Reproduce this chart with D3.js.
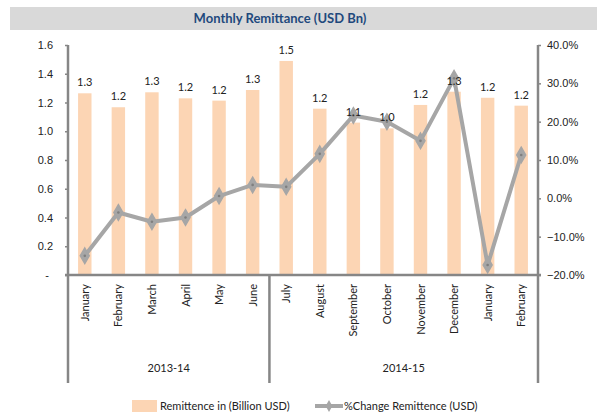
<!doctype html>
<html>
<head>
  <meta charset="utf-8">
  <script src="https://cdnjs.cloudflare.com/ajax/libs/d3/7.8.5/d3.min.js"></script>
  <style>
    body { margin: 0; background: #fff; }
    svg { font-family: Lato, "Open Sans", sans-serif; }
  </style>
</head>
<body>
  <svg id="chart" width="597" height="412"></svg>
  <script>
    // data
    var months = ["January", "February", "March", "April", "May", "June",
      "July", "August", "September", "October", "November", "December", "January", "February"];
    var years = ["2013-14", "2014-15"];
    var yearSpan = [6, 8]; // how many months sit under each year label
    var remittance = [1.264, 1.167, 1.271, 1.229, 1.213, 1.287, 1.489, 1.157, 1.06, 1.02, 1.183, 1.275, 1.233, 1.178];
    var pctChange = [-15.0, -3.7, -6.1, -5.0, 0.6, 3.5, 3.0, 11.6, 21.6, 20.0, 15.0, 31.3, -17.4, 11.3];
    var leftTicks = [0, 0.2, 0.4, 0.6, 0.8, 1.0, 1.2, 1.4, 1.6];
    var rightTicks = [-20, -10, 0, 10, 20, 30, 40];

    var svg = d3.select("#chart");
    var plotL = 68, plotR = 538, plotT = 45, plotB = 275;
    var axisGray = "#868686";

    // title band
    svg.append("rect").attr("x", 10).attr("y", 7).attr("width", 587).attr("height", 23).attr("fill", "#d9d9d9");
    svg.append("text").attr("x", 280).attr("y", 23).attr("text-anchor", "middle")
      .style("font-weight", "bold").style("font-size", "13px").attr("fill", "#1f497d")
      .text("Monthly Remittance (USD Bn)");

    var x = d3.scaleBand().domain(d3.range(months.length)).range([plotL, plotR]).paddingInner(0.6).paddingOuter(0.3);
    var xc = i => x(i) + x.bandwidth() / 2;
    var step = (plotR - plotL) / months.length;
    var yL = d3.scaleLinear().domain([0, 1.6]).range([plotB, plotT]);
    var yR = d3.scaleLinear().domain([-20, 40]).range([plotB, plotT]);

    // bars
    svg.append("g").selectAll("rect").data(remittance).enter().append("rect")
      .attr("x", (d, i) => x(i)).attr("width", x.bandwidth())
      .attr("y", d => yL(d)).attr("height", d => plotB - yL(d))
      .attr("fill", "#fcd5b4");

    // left axis
    var gL = svg.append("g").attr("transform", `translate(${plotL},0)`)
      .call(d3.axisLeft(yL).tickValues(leftTicks).tickSize(3).tickPadding(12)
        .tickFormat(d => d === 0 ? "-" : d3.format(".1f")(d)));
    // right axis
    var gR = svg.append("g").attr("transform", `translate(${plotR},0)`)
      .call(d3.axisRight(yR).tickValues(rightTicks).tickSize(3).tickPadding(6)
        .tickFormat(d => d3.format(".1f")(d) + "%"));
    [gL, gR].forEach(g => {
      g.select(".domain").attr("stroke", axisGray).attr("stroke-width", 2.5).attr("d", `M0,${plotT}V${plotB}`);
      g.selectAll(".tick line").attr("stroke", axisGray).attr("stroke-width", 1.5);
      g.selectAll(".tick text").style("font-size", "11px").attr("fill", "#222");
    });
    gL.selectAll(".tick text").filter(d => d === 0).attr("dx", -4);

    // category axis with year groups
    var ax = svg.append("g").attr("stroke", axisGray).attr("stroke-width", 2.5).attr("fill", "none");
    ax.append("line").attr("x1", plotL - 3).attr("x2", plotR + 3).attr("y1", plotB).attr("y2", plotB);
    var edges = [0];
    yearSpan.forEach(n => edges.push(edges[edges.length - 1] + n));
    edges.forEach(e => {
      ax.append("line").attr("x1", plotL + e * step).attr("x2", plotL + e * step)
        .attr("y1", plotB).attr("y2", 383);
    });

    svg.append("g").selectAll("text").data(months).enter().append("text")
      .attr("transform", (d, i) => `translate(${xc(i) + 4},284) rotate(-90)`)
      .attr("text-anchor", "end").style("font-size", "11px").attr("fill", "#222")
      .text(d => d);

    svg.append("g").selectAll("text").data(years).enter().append("text")
      .attr("x", (d, i) => plotL + (edges[i] + edges[i + 1]) / 2 * step)
      .attr("y", 372).attr("text-anchor", "middle").style("font-size", "11px").attr("fill", "#222")
      .text(d => d);

    // % change line
    var line = d3.line().x((d, i) => xc(i)).y(d => yR(d));
    svg.append("path").datum(pctChange).attr("d", line)
      .attr("fill", "none").attr("stroke", "#a6a6a6").attr("stroke-width", 4).attr("stroke-linejoin", "round");
    var pts = svg.append("g").selectAll("g").data(pctChange).enter().append("g")
      .attr("transform", (d, i) => `translate(${xc(i)},${yR(d)})`);
    pts.append("path").attr("d", d3.symbol(d3.symbolDiamond, 70)).attr("fill", "#a6a6a6").attr("stroke", "#a6a6a6").attr("stroke-width", 1.5);
    pts.append("circle").attr("r", 1.3).attr("fill", "#7f7f7f");

    // bar value labels
    svg.append("g").selectAll("text").data(remittance).enter().append("text")
      .attr("x", (d, i) => xc(i)).attr("y", d => yL(d) - 7)
      .attr("text-anchor", "middle").style("font-size", "11px").attr("fill", "#222")
      .text(d => d3.format(".1f")(d));

    // legend
    var lg = svg.append("g").style("font-size", "11px");
    lg.append("rect").attr("x", 132).attr("y", 400).attr("width", 25).attr("height", 12).attr("fill", "#fcd5b4");
    lg.append("text").attr("x", 160).attr("y", 410).attr("fill", "#222").text("Remittence in (Billion USD)");
    lg.append("line").attr("x1", 315).attr("x2", 343).attr("y1", 406).attr("y2", 406)
      .attr("stroke", "#a6a6a6").attr("stroke-width", 4);
    lg.append("path").attr("transform", "translate(329,406)").attr("d", d3.symbol(d3.symbolDiamond, 40)).attr("fill", "#a6a6a6");
    lg.append("text").attr("x", 344).attr("y", 410).attr("fill", "#222").text("%Change Remittence (USD)");
  </script>
</body>
</html>
